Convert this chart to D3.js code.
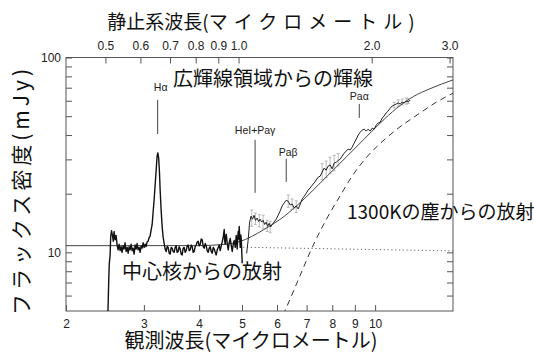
<!DOCTYPE html>
<html>
<head>
<meta charset="utf-8">
<script src="https://cdn.jsdelivr.net/npm/d3@7/dist/d3.min.js"></script>
<style>
  body { margin: 0; background: #fff; }
  svg { display: block; }
</style>
</head>
<body>
<svg id="chart" width="534" height="355"></svg>
<script>
// ---- axis data ----
const obsRange = [2, 15];                 // observed wavelength (micron)
const fluxRange = [5, 100];               // flux density (mJy)
const redshiftFactor = 4.911;             // 1 + z
const obsTicks = [2, 3, 4, 5, 6, 7, 8, 9, 10];
const obsTickLabels = ["2", "3", "4", "5", "6", "7", "8", "9", "10"];
const restTicks = [0.5, 0.6, 0.7, 0.8, 0.9, 1.0, 2.0, 3.0];
const restTickLabels = ["0.5", "0.6", "0.7", "0.8", "0.9", "1.0", "2.0", "3.0"];
const fluxTicks = [6, 7, 8, 9, 10, 20, 30, 40, 50, 60, 70, 80, 90, 100];
const fluxTickLabels = ["", "", "", "", "10", "", "", "", "", "", "", "", "", "100"];

// ---- ground-based spectrum (observed micron, mJy) ----
const optWave = [2.488,2.497,2.505,2.516,2.524,2.535,2.548,2.558,2.569,2.582,2.596,2.610,2.623,2.637,2.651,2.665,2.678,2.692,2.706,2.720,2.735,2.750,2.764,2.778,2.792,2.807,2.822,2.836,2.851,2.866,2.881,2.896,2.911,2.927,2.942,2.957,2.973,2.988,3.004,3.020,3.035,3.051,3.067,3.083,3.099,3.115,3.132,3.148,3.164,3.181,3.198,3.214,3.226,3.240,3.254,3.265,3.282,3.299,3.316,3.334,3.351,3.369,3.386,3.404,3.422,3.440,3.458,3.476,3.494,3.512,3.531,3.549,3.567,3.586,3.605,3.624,3.643,3.662,3.681,3.700,3.720,3.739,3.759,3.778,3.798,3.818,3.838,3.858,3.878,3.898,3.918,3.939,3.960,3.980,4.001,4.022,4.043,4.064,4.086,4.107,4.129,4.150,4.172,4.193,4.215,4.237,4.260,4.282,4.305,4.327,4.350,4.372,4.395,4.418,4.441,4.464,4.488,4.511,4.535,4.558,4.570,4.582,4.594,4.606,4.630,4.654,4.678,4.703,4.727,4.752,4.777,4.802,4.827,4.852,4.865,4.877,4.890,4.903,4.916,4.928,4.941,4.954,4.967,4.980,4.993,5.006];
const optFlux = [4.9,6.8,8.7,9.6,12.0,12.9,12.2,11.4,12.8,11.6,12.2,10.9,10.3,11.0,10.2,10.7,10.0,10.8,10.4,11.2,10.1,10.6,9.9,10.7,10.3,11.0,10.2,10.5,9.8,10.9,10.4,11.1,10.3,10.6,10.0,10.8,10.5,11.2,10.6,11.0,10.7,11.3,11.4,11.9,12.1,13.0,13.9,16.1,18.5,22.1,26.3,31.2,32.4,30.5,25.7,20.9,16.5,13.6,12.0,11.1,10.4,10.1,10.7,10.6,9.9,9.8,10.6,10.5,10.1,10.0,10.6,10.8,10.0,10.1,10.7,10.4,9.8,9.7,10.5,10.6,10.0,10.2,10.8,10.9,10.2,10.3,10.9,10.7,10.0,10.1,10.7,10.9,11.3,11.4,10.8,11.0,11.7,11.6,10.7,10.5,11.1,10.8,10.2,10.0,10.5,10.7,10.1,9.9,10.6,10.4,10.0,9.7,10.3,10.6,10.9,10.2,10.8,11.3,12.0,13.1,11.4,11.0,12.0,12.4,11.1,10.3,11.2,11.8,10.9,10.1,11.0,11.5,10.6,12.2,11.3,10.4,11.9,12.8,11.7,13.6,12.0,10.6,12.3,11.8,10.2,8.8];

// ---- mid-infrared spectrum (observed micron, mJy) ----
const irWave = [5.122,5.163,5.202,5.243,5.283,5.324,5.366,5.409,5.452,5.494,5.537,5.581,5.627,5.670,5.714,5.760,5.804,5.850,5.911,5.973,6.035,6.099,6.163,6.227,6.292,6.359,6.426,6.493,6.561,6.631,6.700,6.771,6.842,6.914,6.986,7.060,7.130,7.205,7.280,7.356,7.434,7.511,7.590,7.669,7.750,7.831,7.913,7.996,8.080,8.165,8.250,8.337,8.424,8.513,8.602,8.692,8.783,8.875,8.968,9.062,9.157,9.253,9.349,9.447,9.546,9.646,9.747,9.849,9.952,10.06,10.16,10.27,10.38,10.48,10.59,10.70,10.82,10.93,11.04,11.16,11.28,11.40,11.51,11.64,11.76,11.88,12.00];
const irFlux = [9.88,11.53,14.28,15.34,14.8,15.5,14.6,15.0,14.4,14.8,14.3,14.6,13.9,14.3,13.6,14.1,13.5,13.9,14.3,14.8,15.5,16.3,17.3,17.9,18.5,18.3,17.5,17.7,16.9,17.3,16.7,17.7,18.8,19.4,20.1,20.9,21.4,22.1,22.7,23.5,24.3,24.6,25.8,27.1,26.4,27.7,28.1,26.8,28.7,29.0,29.6,30.1,31.2,32.3,33.1,33.9,33.5,34.7,36.4,38.1,40.0,41.4,42.4,42.9,41.9,42.9,41.9,43.4,42.9,45.0,46.1,46.6,48.9,50.1,51.9,53.1,55.0,56.4,57.0,57.7,58.4,57.7,59.1,58.4,59.8,59.1,60.5];

// ---- error bars on the mid-infrared spectrum ----
const errWave = [5.26,5.36,5.47,5.58,5.70,5.79,6.36,6.49,6.63,7.59,7.75,7.91,8.08,8.25,11.04,11.28,11.51,11.76,11.88];
const errLow  = [13.6,13.9,13.5,13.2,12.8,12.6,17.0,16.6,16.0,23.6,24.2,25.5,26.2,27.8,55.2,56.2,57.0,57.6,58.0];
const errHigh = [16.5,15.9,15.6,15.5,14.6,14.4,19.7,18.8,18.4,28.6,29.4,30.8,31.5,32.2,58.9,60.6,61.2,62.0,61.5];

// ---- model components ----
const totalWave = [2.0,4.0,4.576,4.948,5.586,6.092,6.646,7.248,7.908,8.622,9.404,10.26,11.19,12.20,13.31,15.0];
const totalFlux = [10.82,10.83,11.00,11.37,13.03,14.75,17.31,20.91,25.47,30.99,37.76,46.00,54.93,63.02,69.17,76.74];
const dustWave = [6.19,6.25,6.73,7.22,7.82,8.33,8.91,9.58,10.42,11.38,12.50,13.73,15.0];
const dustFlux = [4.77,5.00,7.39,10.70,15.25,19.48,24.96,30.88,37.31,44.04,51.05,58.83,65.56];
const coreWave = [5.03, 15.0];
const coreFlux = [10.62, 10.17];

// ---- emission line markers (rest micron) ----
const lineNames = ["Hα", "HeI+Paγ", "Paβ", "Paα"];
const lineRest = [0.6563, 1.0900, 1.2818, 1.8751];
const lineTop = [60.6, 37.8, 30.2, 57.8];      // mJy
const lineBottom = [40.5, 20.2, 23.0, 49.0];   // mJy

(function draw() {
  const svg = d3.select("#chart");
  const pLeft = 66, pRight = 453, pTop = 57.5, pBottom = 311;
  const latin = "'Liberation Sans', Arial, Helvetica, sans-serif";
  const cjk = "'Noto Sans CJK JP', 'Noto Sans', sans-serif";
  const frameColor = "#555";

  const x = d3.scaleLog().domain(obsRange).range([pLeft, pRight]);
  const xRest = d3.scaleLog().domain([obsRange[0] / redshiftFactor, obsRange[1] / redshiftFactor]).range([pLeft, pRight]);
  const y = d3.scaleLog().domain(fluxRange).range([pBottom, pTop]);

  svg.append("defs").append("clipPath").attr("id", "plotClip")
    .append("rect").attr("x", pLeft).attr("y", pTop).attr("width", pRight - pLeft).attr("height", pBottom - pTop);

  function styleAxis(g) {
    g.select(".domain").remove();
    g.selectAll(".tick line").attr("stroke", frameColor).attr("stroke-width", 1);
    g.selectAll(".tick text").attr("fill", "#222").style("font-family", latin).style("font-size", "12px");
  }

  // bottom axis: observed wavelength
  svg.append("g").attr("transform", `translate(0,${pBottom})`)
    .call(d3.axisBottom(x).tickValues(obsTicks).tickSize(-6).tickPadding(8)
      .tickFormat((d, i) => obsTickLabels[i]))
    .call(styleAxis);

  // top axis: rest-frame wavelength
  svg.append("g").attr("transform", `translate(0,${pTop})`)
    .call(d3.axisTop(xRest).tickValues(restTicks).tickSize(-6).tickPadding(8)
      .tickFormat((d, i) => restTickLabels[i]))
    .call(styleAxis);

  // left and right flux axes
  svg.append("g").attr("transform", `translate(${pLeft},0)`)
    .call(d3.axisLeft(y).tickValues(fluxTicks).tickSize(-6).tickPadding(5)
      .tickFormat((d, i) => fluxTickLabels[i]))
    .call(styleAxis);
  svg.append("g").attr("transform", `translate(${pRight},0)`)
    .call(d3.axisRight(y).tickValues(fluxTicks).tickSize(-6).tickFormat(""))
    .call(styleAxis);

  // frame
  svg.append("rect").attr("x", pLeft).attr("y", pTop).attr("width", pRight - pLeft).attr("height", pBottom - pTop)
    .attr("fill", "none").attr("stroke", frameColor).attr("stroke-width", 1);

  const plot = svg.append("g").attr("clip-path", "url(#plotClip)");

  const series = (w, f) => w.map((d, i) => [d, f[i]]);
  const line = d3.line().x(d => x(d[0])).y(d => y(d[1]));
  const smooth = d3.line().x(d => x(d[0])).y(d => y(d[1])).curve(d3.curveMonotoneX);

  // error bars
  errWave.forEach((w, i) => {
    const g = plot.append("g").attr("stroke", "#aaa").attr("stroke-width", 0.8);
    g.append("line").attr("x1", x(w)).attr("x2", x(w)).attr("y1", y(errLow[i])).attr("y2", y(errHigh[i]));
    g.append("line").attr("x1", x(w) - 1.5).attr("x2", x(w) + 1.5).attr("y1", y(errLow[i])).attr("y2", y(errLow[i]));
    g.append("line").attr("x1", x(w) - 1.5).attr("x2", x(w) + 1.5).attr("y1", y(errHigh[i])).attr("y2", y(errHigh[i]));
  });

  // model curves
  plot.append("path").datum(series(coreWave, coreFlux)).attr("d", line)
    .attr("fill", "none").attr("stroke", "#666").attr("stroke-width", 1).attr("stroke-dasharray", "1.2,2.6");
  plot.append("path").datum(series(dustWave, dustFlux)).attr("d", smooth)
    .attr("fill", "none").attr("stroke", "#333").attr("stroke-width", 1).attr("stroke-dasharray", "6,4.5");
  plot.append("path").datum(series(totalWave, totalFlux)).attr("d", smooth)
    .attr("fill", "none").attr("stroke", "#444").attr("stroke-width", 1);

  // spectra
  plot.append("path").datum(series(optWave, optFlux)).attr("d", line)
    .attr("fill", "none").attr("stroke", "#111").attr("stroke-width", 1.4).attr("stroke-linejoin", "round");
  plot.append("path").datum(series(irWave, irFlux)).attr("d", line)
    .attr("fill", "none").attr("stroke", "#222").attr("stroke-width", 1).attr("stroke-linejoin", "round");

  // emission line markers and labels
  const labelOffsets = [[3, -9], [0, -6], [2, -3], [0, -4]];
  lineRest.forEach((r, i) => {
    const lx = x(r * redshiftFactor);
    svg.append("line").attr("x1", lx).attr("x2", lx).attr("y1", y(lineTop[i])).attr("y2", y(lineBottom[i]))
      .attr("stroke", "#444").attr("stroke-width", 1);
    svg.append("text").attr("x", lx + labelOffsets[i][0]).attr("y", y(lineTop[i]) + labelOffsets[i][1])
      .attr("text-anchor", "middle").attr("fill", "#222")
      .style("font-family", latin).style("font-size", "10.5px").text(lineNames[i]);
  });

  // region labels
  const bigText = (tx, ty, s, size) => svg.append("text").attr("x", tx).attr("y", ty).attr("fill", "#111")
    .style("font-family", cjk).style("font-size", size + "px").text(s);
  bigText(173, 86, "広輝線領域からの輝線", 20);
  bigText(347, 219, "1300Kの塵からの放射", 19);
  bigText(122, 279, "中心核からの放射", 20);

  // axis titles
  const topTitle = svg.append("text").attr("x", 261).attr("y", 29).attr("text-anchor", "middle").attr("fill", "#111")
    .style("font-family", cjk).style("font-size", "19px");
  topTitle.append("tspan").text("静止系波長(");
  topTitle.append("tspan").style("letter-spacing", "6px").text("マイクロメートル");
  topTitle.append("tspan").text(")");

  svg.append("text").attr("x", 251).attr("y", 348).attr("text-anchor", "middle").attr("fill", "#111")
    .style("font-family", cjk).style("font-size", "20px").text("観測波長(マイクロメートル)");

  svg.append("text").attr("transform", "translate(29,190) rotate(-90)").attr("text-anchor", "middle").attr("fill", "#111")
    .style("font-family", cjk).style("font-size", "21px").style("letter-spacing", "4px").text("フラックス密度(mJy)");
})();
</script>
</body>
</html>
